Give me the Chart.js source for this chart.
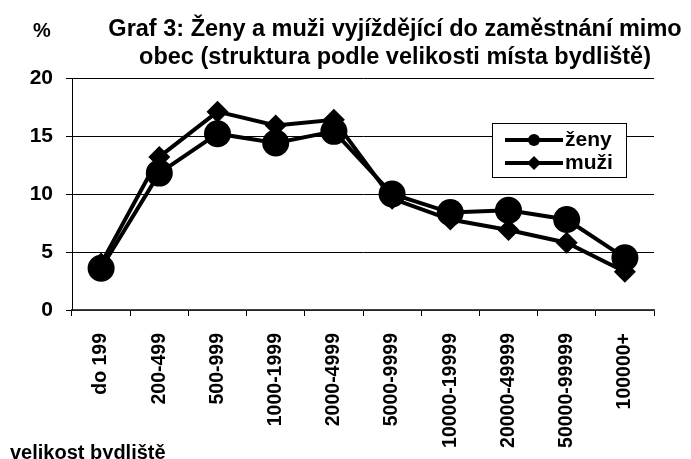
<!DOCTYPE html>
<html lang="cs">
<head>
  <meta charset="UTF-8">
  <title>Graf 3</title>
  <script src="https://cdn.jsdelivr.net/npm/chart.js@4/dist/chart.umd.min.js"></script>
  <style>
    html, body { margin: 0; padding: 0; background: #fff; }
    #wrap { width: 691px; height: 459px; }
  </style>
</head>
<body>
<div id="wrap"><canvas id="graf3" width="691" height="459"></canvas></div>

<script>
  // velikost místa bydliště
  const categories = ['do 199', '200-499', '500-999', '1000-1999', '2000-4999',
    '5000-9999', '10000-19999', '20000-49999', '50000-99999', '100000+'];
  // podíly v %
  const zeny = [3.6, 11.8, 15.2, 14.4, 15.4, 10.0, 8.4, 8.6, 7.8, 4.5];
  const muzi = [4.0, 13.2, 17.1, 15.9, 16.4, 9.6, 7.8, 6.9, 5.8, 3.3];
  const yTicks = [0, 5, 10, 15, 20];

  const FONT = '"Liberation Sans", Arial, sans-serif';

  // titulek, popisky os a legenda v rámečku
  const decorations = {
    id: 'decorations',
    afterDraw(chart) {
      const ctx = chart.ctx;
      ctx.save();
      ctx.fillStyle = '#000';
      ctx.textBaseline = 'alphabetic';

      ctx.font = 'bold 23.5px ' + FONT;
      ctx.textAlign = 'center';
      ctx.fillText('Graf 3: Ženy a muži vyjíždějící do zaměstnání mimo', 395, 36);
      ctx.fillText('obec (struktura podle velikosti místa bydliště)', 395, 64);

      ctx.textAlign = 'left';
      ctx.font = 'bold 20px ' + FONT;
      ctx.fillText('%', 33, 37);
      ctx.fillText('velikost bydliště', 10, 459);

      // legenda
      ctx.fillStyle = '#fff';
      ctx.fillRect(492, 123, 134, 54);
      ctx.strokeStyle = '#000';
      ctx.lineWidth = 1;
      ctx.strokeRect(492.5, 123.5, 134, 54);

      chart.data.datasets.forEach((ds, i) => {
        const y = 140 + i * 23;
        ctx.strokeStyle = '#000';
        ctx.lineWidth = 4;
        ctx.beginPath();
        ctx.moveTo(505, y);
        ctx.lineTo(563, y);
        ctx.stroke();
        ctx.fillStyle = '#000';
        ctx.beginPath();
        if (ds.pointStyle === 'circle') {
          ctx.arc(534, y, 6, 0, Math.PI * 2);
        } else {
          ctx.moveTo(534, y - 7);
          ctx.lineTo(541, y);
          ctx.lineTo(534, y + 7);
          ctx.lineTo(527, y);
          ctx.closePath();
        }
        ctx.fill();
        ctx.font = 'bold 21px ' + FONT;
        ctx.textBaseline = 'middle';
        ctx.fillText(ds.label, 565, y);
      });
      ctx.restore();
    }
  };

  new Chart(document.getElementById('graf3'), {
    type: 'line',
    data: {
      labels: categories,
      datasets: [
        {
          label: 'ženy',
          data: zeny,
          borderColor: '#000',
          borderWidth: 4,
          backgroundColor: '#000',
          pointStyle: 'circle',
          pointRadius: 13.5,
          pointBorderWidth: 0,
          pointBackgroundColor: '#000',
          tension: 0
        },
        {
          label: 'muži',
          data: muzi,
          borderColor: '#000',
          borderWidth: 4,
          backgroundColor: '#000',
          pointStyle: 'rectRot',
          pointRadius: 11,
          pointBorderWidth: 0,
          pointBackgroundColor: '#000',
          tension: 0
        }
      ]
    },
    options: {
      responsive: false,
      animation: false,
      clip: false,
      layout: { padding: { top: 78, right: 37, bottom: 0, left: 0 } },
      plugins: {
        legend: { display: false },
        title: { display: false },
        tooltip: { enabled: false }
      },
      scales: {
        x: {
          type: 'category',
          offset: true,
          grid: {
            offset: true,
            drawOnChartArea: false,
            drawTicks: true,
            tickLength: 6,
            color: '#000'
          },
          border: { color: '#444', width: 1.5 },
          ticks: {
            minRotation: 90,
            maxRotation: 90,
            autoSkip: false,
            padding: 17,
            color: '#000',
            font: { family: FONT, size: 19.5, weight: 'bold' }
          },
          afterFit(scale) { scale.height = 149; }
        },
        y: {
          min: yTicks[0],
          max: yTicks[yTicks.length - 1],
          afterBuildTicks(scale) { scale.ticks = yTicks.map(v => ({ value: v })); },
          grid: {
            color: '#000',
            lineWidth: 1,
            drawTicks: true,
            tickLength: 6
          },
          border: { color: '#000', width: 1 },
          ticks: {
            padding: 13,
            color: '#000',
            font: { family: FONT, size: 21, weight: 'bold' }
          },
          afterFit(scale) { scale.width = 72; }
        }
      }
    },
    plugins: [decorations]
  });
</script>
</body>
</html>
